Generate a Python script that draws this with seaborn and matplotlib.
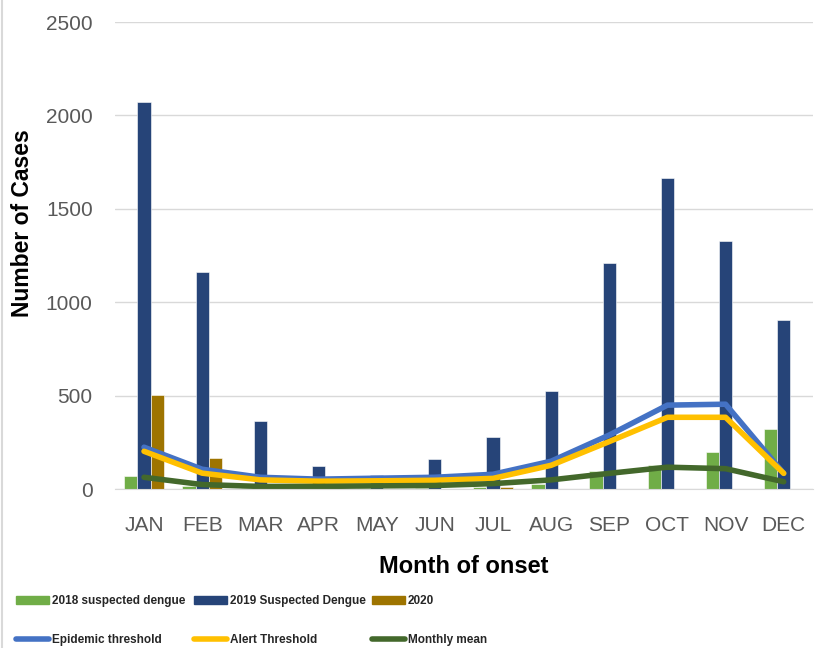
import numpy as np
import pandas as pd
import matplotlib
matplotlib.use("Agg")
import matplotlib.pyplot as plt
import seaborn as sns
from matplotlib.patches import Patch
from matplotlib.lines import Line2D

# Data
months = ["JAN", "FEB", "MAR", "APR", "MAY", "JUN", "JUL", "AUG", "SEP", "OCT", "NOV", "DEC"]
cases_2018 = [70, 20, 8, 5, 5, 8, 12, 30, 96, 128, 198, 321]
cases_2019 = [2072, 1162, 364, 123, 75, 160, 278, 525, 1210, 1665, 1328, 905]
cases_2020 = [503, 166, 0, 0, 0, 0, 12, 0, 0, 0, 0, 0]
epidemic_threshold = [225, 107, 64, 54, 59, 64, 80, 150, 290, 450, 455, 85]
alert_threshold = [203, 86, 50, 43, 45, 48, 58, 128, 255, 385, 385, 85]
monthly_mean = [64, 25, 15, 15, 18, 20, 30, 50, 85, 118, 110, 40]

series_names = ["2018 suspected dengue", "2019 Suspected Dengue", "2020"]
bar_colors = ["#70AD47", "#264478", "#9E7400"]
line_names = ["Epidemic threshold", "Alert Threshold", "Monthly mean"]
line_colors = ["#4472C4", "#FFC000", "#43682B"]

df = pd.DataFrame({
    "Month": months * 3,
    "Cases": cases_2018 + cases_2019 + cases_2020,
    "Series": sum([[s] * 12 for s in series_names], []),
})

sns.set_style("white")
fig, ax = plt.subplots(figsize=(8.21, 6.48), dpi=100)
fig.subplots_adjust(left=0.14, right=0.99, top=0.966, bottom=0.245)

sns.barplot(data=df, x="Month", y="Cases", hue="Series", palette=bar_colors,
            saturation=1, width=0.68, ax=ax, legend=False,
            edgecolor="white", linewidth=0.4)

x = np.arange(len(months))
for vals, col in zip([epidemic_threshold, alert_threshold, monthly_mean], line_colors):
    sns.lineplot(x=x, y=vals, color=col, linewidth=4, ax=ax)

ax.set_ylim(0, 2500)
ax.set_xlim(-0.5, 11.5)
ax.set_yticks(range(0, 2501, 500))
ax.yaxis.grid(True, color="#D9D9D9", linewidth=1)
ax.set_axisbelow(True)
for s in ["top", "right", "left"]:
    ax.spines[s].set_visible(False)
ax.spines["bottom"].set_color("#D9D9D9")
ax.tick_params(axis="y", length=0, labelsize=15, labelcolor="#595959", pad=16)
ax.tick_params(axis="x", length=0, labelsize=15, labelcolor="#595959", pad=19)
for lbl in ax.get_xticklabels() + ax.get_yticklabels():
    lbl.set_family("Liberation Sans")

ax.set_xlabel("Month of onset", fontsize=17, fontweight="bold", labelpad=15,
              family="Liberation Sans", color="black")
ax.set_ylabel("Number of Cases", fontsize=16.5, fontweight="bold",
              family="Liberation Sans", color="black")
ax.yaxis.set_label_coords(-0.116, 0.57)

# legend: three columns placed by hand, bars on top row, lines below
col_x = [0.012, 0.229, 0.446]
for i in range(3):
    handles = [
        Patch(color=bar_colors[i], label=series_names[i]),
        Line2D([0], [0], color=line_colors[i], lw=4, solid_capstyle="round", label=line_names[i]),
    ]
    fig.legend(handles=handles, loc="lower left", bbox_to_anchor=(col_x[i], -0.006),
               frameon=False, handlelength=2.8, handleheight=0.7, handletextpad=0.25,
               labelspacing=2.3, borderpad=0,
               prop={"family": "Liberation Sans", "weight": "bold", "size": 8.5})

# thin frame line on the left like the source image
fig.add_artist(Line2D([0.002, 0.002], [0, 1], color="#D9D9D9", lw=1.5))

plt.savefig("out.png", dpi=100)
